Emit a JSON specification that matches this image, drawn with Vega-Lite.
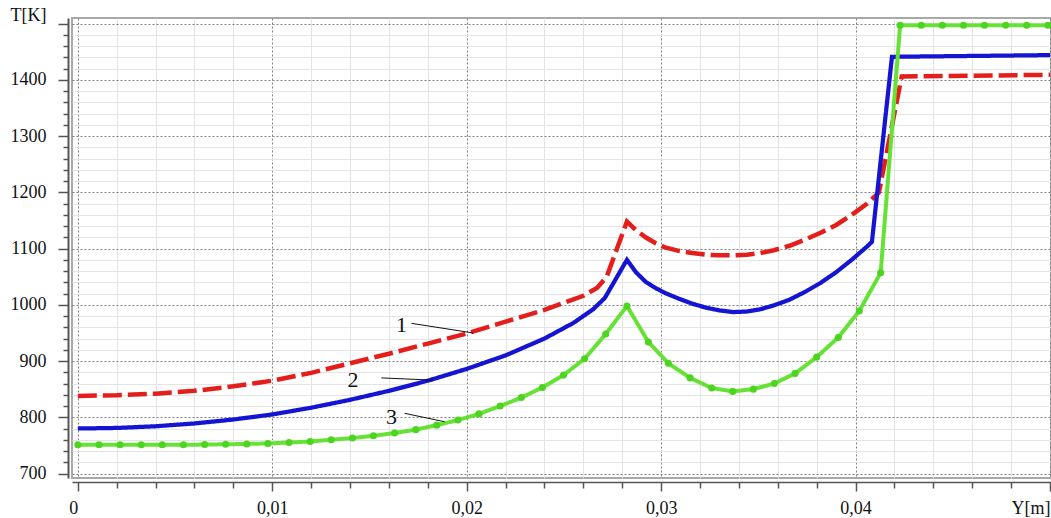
{
  "$schema": "https://vega.github.io/schema/vega-lite/v6.json",
  "width": 979,
  "height": 460,
  "autosize": {"type": "none"},
  "padding": {"left": 72, "top": 18, "right": 0, "bottom": 40},
  "background": "white",
  "config": {
    "view": {"stroke": "#a8a8a8", "strokeWidth": 2},
    "font": "Liberation Serif",
    "axis": {"labelFont": "Liberation Serif", "labelFontSize": 18, "labelOverlap": false, "labelColor": "#111"}
  },
  "datasets": {
    "curves": [
      {"s": "1", "X": 0, "T": 838},
      {"s": "1", "X": 0.002, "T": 839},
      {"s": "1", "X": 0.004, "T": 842},
      {"s": "1", "X": 0.006, "T": 847},
      {"s": "1", "X": 0.008, "T": 855},
      {"s": "1", "X": 0.01, "T": 865},
      {"s": "1", "X": 0.012, "T": 879},
      {"s": "1", "X": 0.014, "T": 896},
      {"s": "1", "X": 0.016, "T": 913},
      {"s": "1", "X": 0.018, "T": 931},
      {"s": "1", "X": 0.02, "T": 949},
      {"s": "1", "X": 0.022, "T": 970},
      {"s": "1", "X": 0.024, "T": 991},
      {"s": "1", "X": 0.026, "T": 1016},
      {"s": "1", "X": 0.0267, "T": 1030},
      {"s": "1", "X": 0.0272, "T": 1050},
      {"s": "1", "X": 0.02824, "T": 1148},
      {"s": "1", "X": 0.0287, "T": 1133},
      {"s": "1", "X": 0.0292, "T": 1120},
      {"s": "1", "X": 0.0297, "T": 1110},
      {"s": "1", "X": 0.0302, "T": 1102},
      {"s": "1", "X": 0.0309, "T": 1096},
      {"s": "1", "X": 0.0316, "T": 1092},
      {"s": "1", "X": 0.0323, "T": 1089},
      {"s": "1", "X": 0.033, "T": 1088},
      {"s": "1", "X": 0.0337, "T": 1088},
      {"s": "1", "X": 0.0344, "T": 1089},
      {"s": "1", "X": 0.0351, "T": 1092},
      {"s": "1", "X": 0.0358, "T": 1097},
      {"s": "1", "X": 0.0366, "T": 1105},
      {"s": "1", "X": 0.0374, "T": 1116},
      {"s": "1", "X": 0.0382, "T": 1128},
      {"s": "1", "X": 0.039, "T": 1142},
      {"s": "1", "X": 0.0398, "T": 1160},
      {"s": "1", "X": 0.0406, "T": 1180},
      {"s": "1", "X": 0.0412, "T": 1200},
      {"s": "1", "X": 0.04237, "T": 1406},
      {"s": "1", "X": 0.05, "T": 1409},
      {"s": "2", "X": 0, "T": 780},
      {"s": "2", "X": 0.002, "T": 781},
      {"s": "2", "X": 0.004, "T": 784},
      {"s": "2", "X": 0.006, "T": 789},
      {"s": "2", "X": 0.008, "T": 796},
      {"s": "2", "X": 0.01, "T": 805},
      {"s": "2", "X": 0.012, "T": 817},
      {"s": "2", "X": 0.014, "T": 831},
      {"s": "2", "X": 0.016, "T": 847},
      {"s": "2", "X": 0.018, "T": 865},
      {"s": "2", "X": 0.02, "T": 886},
      {"s": "2", "X": 0.022, "T": 910},
      {"s": "2", "X": 0.024, "T": 940},
      {"s": "2", "X": 0.0255, "T": 968},
      {"s": "2", "X": 0.0265, "T": 992},
      {"s": "2", "X": 0.0271, "T": 1012},
      {"s": "2", "X": 0.02824, "T": 1080},
      {"s": "2", "X": 0.0287, "T": 1058},
      {"s": "2", "X": 0.0292, "T": 1041},
      {"s": "2", "X": 0.0297, "T": 1030},
      {"s": "2", "X": 0.0302, "T": 1021},
      {"s": "2", "X": 0.0309, "T": 1011},
      {"s": "2", "X": 0.0316, "T": 1002},
      {"s": "2", "X": 0.0323, "T": 995},
      {"s": "2", "X": 0.033, "T": 990},
      {"s": "2", "X": 0.0337, "T": 987},
      {"s": "2", "X": 0.0344, "T": 988},
      {"s": "2", "X": 0.0351, "T": 992},
      {"s": "2", "X": 0.0358, "T": 999},
      {"s": "2", "X": 0.0366, "T": 1009},
      {"s": "2", "X": 0.0374, "T": 1023},
      {"s": "2", "X": 0.0382, "T": 1039},
      {"s": "2", "X": 0.039, "T": 1058},
      {"s": "2", "X": 0.0398, "T": 1080},
      {"s": "2", "X": 0.0406, "T": 1104},
      {"s": "2", "X": 0.04084, "T": 1112},
      {"s": "2", "X": 0.04187, "T": 1441},
      {"s": "2", "X": 0.05, "T": 1444},
      {"s": "3", "X": 0, "T": 751},
      {"s": "3", "X": 0.00109, "T": 751},
      {"s": "3", "X": 0.00217, "T": 751},
      {"s": "3", "X": 0.00326, "T": 751},
      {"s": "3", "X": 0.00434, "T": 751},
      {"s": "3", "X": 0.00543, "T": 751},
      {"s": "3", "X": 0.00652, "T": 751.5},
      {"s": "3", "X": 0.0076, "T": 752},
      {"s": "3", "X": 0.00869, "T": 752.5},
      {"s": "3", "X": 0.00977, "T": 753.5},
      {"s": "3", "X": 0.01086, "T": 755},
      {"s": "3", "X": 0.01195, "T": 757},
      {"s": "3", "X": 0.01303, "T": 760},
      {"s": "3", "X": 0.01412, "T": 763},
      {"s": "3", "X": 0.0152, "T": 767},
      {"s": "3", "X": 0.01629, "T": 772},
      {"s": "3", "X": 0.01738, "T": 778},
      {"s": "3", "X": 0.01846, "T": 786},
      {"s": "3", "X": 0.01955, "T": 795},
      {"s": "3", "X": 0.02063, "T": 806},
      {"s": "3", "X": 0.02172, "T": 820},
      {"s": "3", "X": 0.02281, "T": 835},
      {"s": "3", "X": 0.02389, "T": 853},
      {"s": "3", "X": 0.02498, "T": 875},
      {"s": "3", "X": 0.02606, "T": 904},
      {"s": "3", "X": 0.02715, "T": 948},
      {"s": "3", "X": 0.02824, "T": 998},
      {"s": "3", "X": 0.02934, "T": 934},
      {"s": "3", "X": 0.03037, "T": 896},
      {"s": "3", "X": 0.03149, "T": 870},
      {"s": "3", "X": 0.0326, "T": 852},
      {"s": "3", "X": 0.03368, "T": 846},
      {"s": "3", "X": 0.03474, "T": 850},
      {"s": "3", "X": 0.03582, "T": 860},
      {"s": "3", "X": 0.03689, "T": 878},
      {"s": "3", "X": 0.038, "T": 907},
      {"s": "3", "X": 0.03911, "T": 942},
      {"s": "3", "X": 0.04019, "T": 989},
      {"s": "3", "X": 0.04129, "T": 1057},
      {"s": "3", "X": 0.04229, "T": 1497},
      {"s": "3", "X": 0.04338, "T": 1497},
      {"s": "3", "X": 0.04446, "T": 1497},
      {"s": "3", "X": 0.04555, "T": 1497},
      {"s": "3", "X": 0.04663, "T": 1497},
      {"s": "3", "X": 0.04772, "T": 1497},
      {"s": "3", "X": 0.0488, "T": 1497},
      {"s": "3", "X": 0.04989, "T": 1497}
    ],
    "leaders": [
      {"lab": "1", "X": 0.01716, "T": 967, "X2": 0.02032, "T2": 950},
      {"lab": "2", "X": 0.01561, "T": 870, "X2": 0.01827, "T2": 866},
      {"lab": "3", "X": 0.01681, "T": 807, "X2": 0.01887, "T2": 792}
    ],
    "labels": [
      {"lab": "1", "X": 0.01664, "T": 964},
      {"lab": "2", "X": 0.01415, "T": 866},
      {"lab": "3", "X": 0.01613, "T": 801}
    ]
  },
  "encoding": {
    "x": {
      "field": "X", "type": "quantitative",
      "scale": {"domain": [-0.0003, 0.05005], "nice": false, "zero": false},
      "axis": {
        "title": null,
        "orient": "bottom",
        "offset": 4,
        "values": [0, 0.002, 0.004, 0.006, 0.008, 0.01, 0.012, 0.014, 0.016, 0.018, 0.02, 0.022, 0.024, 0.026, 0.028, 0.03, 0.032, 0.034, 0.036, 0.038, 0.04, 0.042, 0.044, 0.046, 0.048, 0.05],
        "labelExpr": "abs(datum.value*100 - round(datum.value*100)) > 0.01 ? '' : (datum.value == 0 ? '0' : (datum.value > 0.0499 ? 'Y[m]' : replace(format(datum.value, '.2f'), '.', ',')))",
        "labelOverlap": false,
        "labelBound": false,
        "labelFlush": false,
        "labelFont": "Liberation Serif",
        "labelFontSize": 18,
        "labelColor": "#111",
        "labelPadding": 8,
        "labelAlign": {"condition": {"test": "datum.value > 0.0499 || datum.value == 0", "value": "right"}, "value": "center"},
        "domainColor": "#555",
        "domainWidth": 1.5,
        "tickColor": "#555",
        "tickWidth": 1.5,
        "tickSize": {"condition": {"test": "abs(datum.value*100 - round(datum.value*100)) < 0.01", "value": 9}, "value": 6},
        "grid": true,
        "gridColor": {"condition": {"test": "abs(datum.value*100 - round(datum.value*100)) < 0.01", "value": "#808080"}, "value": "#e4e4e4"},
        "gridDash": {"condition": {"test": "abs(datum.value*100 - round(datum.value*100)) < 0.01", "value": [2, 2]}, "value": []},
        "gridWidth": 1
      }
    },
    "y": {
      "field": "T", "type": "quantitative",
      "scale": {"domain": [692, 1510], "nice": false, "zero": false},
      "axis": {
        "title": null,
        "orient": "left",
        "offset": 4,
        "values": [700, 720, 740, 760, 780, 800, 820, 840, 860, 880, 900, 920, 940, 960, 980, 1000, 1020, 1040, 1060, 1080, 1100, 1120, 1140, 1160, 1180, 1200, 1220, 1240, 1260, 1280, 1300, 1320, 1340, 1360, 1380, 1400, 1420, 1440, 1460, 1480, 1500],
        "labelExpr": "datum.value == 1500 ? 'T[K]' : (datum.value % 100 == 0 ? format(datum.value, 'd') : '')",
        "labelOverlap": false,
        "labelBound": false,
        "labelFlush": false,
        "labelFont": "Liberation Serif",
        "labelFontSize": 18,
        "labelColor": "#111",
        "labelPadding": 12,
        "labelOffset": {"condition": {"test": "datum.value == 1500", "value": -8}, "value": 0},
        "domainColor": "#555",
        "domainWidth": 2,
        "tickColor": "#555",
        "tickWidth": 1.5,
        "tickSize": {"condition": {"test": "datum.value % 100 == 0", "value": 10}, "value": 5},
        "grid": true,
        "gridColor": {"condition": {"test": "datum.value % 100 == 0", "value": "#808080"}, "value": "#e4e4e4"},
        "gridDash": {"condition": {"test": "datum.value % 100 == 0", "value": [2, 2]}, "value": []},
        "gridWidth": 1
      }
    }
  },
  "layer": [
    {
      "data": {"name": "curves"},
      "mark": {"type": "line", "clip": true},
      "encoding": {
        "color": {
          "field": "s", "type": "nominal",
          "scale": {"domain": ["1", "2", "3"], "range": ["#e41e1a", "#1414d2", "#66e236"]},
          "legend": null
        },
        "strokeDash": {
          "field": "s", "type": "nominal",
          "scale": {"domain": ["1", "2", "3"], "range": [[19, 6], [1, 0], [1, 0]]},
          "legend": null
        },
        "strokeWidth": {
          "field": "s", "type": "nominal",
          "scale": {"domain": ["1", "2", "3"], "range": [4.5, 4, 4]},
          "legend": null
        }
      }
    },
    {
      "data": {"name": "curves"},
      "transform": [{"filter": "datum.s == '3'"}],
      "mark": {"type": "circle", "size": 50, "opacity": 1, "color": "#4cd420", "clip": true}
    },
    {
      "data": {"name": "leaders"},
      "mark": {"type": "rule", "color": "#111", "strokeWidth": 1},
      "encoding": {
        "x2": {"field": "X2"},
        "y2": {"field": "T2"}
      }
    },
    {
      "data": {"name": "labels"},
      "mark": {"type": "text", "font": "Liberation Serif", "fontSize": 22, "color": "#111", "align": "center", "baseline": "middle"},
      "encoding": {
        "text": {"field": "lab"}
      }
    }
  ]
}
